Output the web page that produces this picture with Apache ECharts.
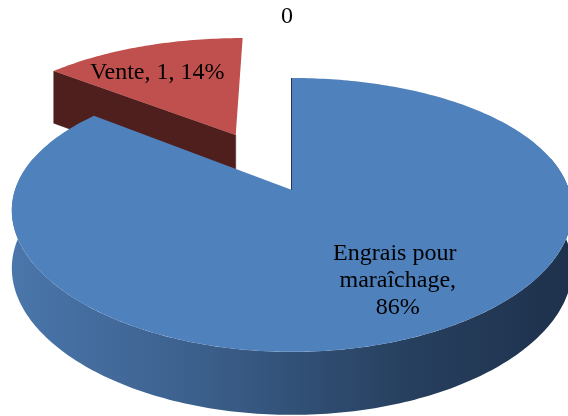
<!DOCTYPE html>
<html><head><meta charset="utf-8">
<script src="https://cdn.jsdelivr.net/npm/echarts@6.0.0/dist/echarts.min.js"></script>
<style>html,body{margin:0;padding:0;background:#fff}#c{width:568px;height:416px}</style>
</head><body><div id="c"></div>
<script>
// ---- data ----
const categories = ['Engrais pour maraîchage', 'Vente', ''];
const values = [6, 1, 0];
const labelFormats = ['{b},\n{d}%', '{b}, {c}, {d}%', '{c}'];
const explode = [0, 0.5, 0];

// ---- styles ----
const topColors = ['#4F81BD', '#C0504D', '#9BBB59'];
const cutColors = ['#22385a', '#4f1f1e', '#5a6e33'];
const sideStops = [
  [[0, '#4a76ab'], [0.34, '#3b5f8b'], [0.7, '#27405f'], [1, '#1e314c']],
  [[0, '#5a2422'], [1, '#3e1716']],
  [[0, '#73893f'], [1, '#4a5a29']]
];
const G = {cx: 292, cy: 190, A: 277, E: 132.4, k: 0.182, kx: 0.15, H: 57,
  labelR: 0.7, labelShift: -4 * Math.PI / 180, zeroR: 1.72, xL: 13, xR: 571};

const total = values.reduce((s, v) => s + v, 0);
const starts = [];
{ let acc = 0; values.forEach(v => { starts.push(acc); acc += v; }); }

function proj(u, v, down) {
  const D = 1 + G.k * v;
  const Dx = 1 + G.kx * v;
  return [G.cx + G.A * u / Dx, G.cy - G.E * v / D + (down ? G.H / Math.sqrt(D) : 0)];
}
function fmt(i) {
  const pct = Math.round(values[i] / total * 100);
  return labelFormats[i].replace('{b}', categories[i]).replace('{c}', values[i]).replace('{d}', pct);
}
function arc(ou, ov, a1, a2, down, n) {
  const pts = [];
  for (let j = 0; j <= n; j++) {
    const t = a1 + (a2 - a1) * j / n;
    pts.push(proj(ou + Math.sin(t), ov + Math.cos(t), down));
  }
  return pts;
}

function renderItem(params, api) {
  const i = params.dataIndex;
  const val = api.value(0);
  const TAU = Math.PI * 2;
  const t1 = starts[i] / total * TAU, t2 = (starts[i] + val) / total * TAU;
  const mid = (t1 + t2) / 2;
  const ex = explode[i];
  const ou = ex * Math.sin(mid), ov = ex * Math.cos(mid);
  const base = Math.round(10 * (1 - ov - 0.5 * Math.cos(mid))) * 10;
  const children = [];
  const font = '24px "Liberation Serif", "Times New Roman", serif';
  if (val > 0) {
    // outer side (front part only)
    const lim = Math.acos(0.25);
    const s1 = Math.max(t1, lim), s2 = Math.min(t2, TAU - lim);
    if (s2 > s1) {
      const n = Math.max(8, Math.ceil((s2 - s1) * 60));
      const topA = arc(ou, ov, s1, s2, false, n);
      const botA = arc(ou, ov, s1, s2, true, n).reverse();
      children.push({type: 'polygon', z2: base + 1, shape: {points: topA.concat(botA)},
        style: {fill: {type: 'linear', x: G.xL, y: 0, x2: G.xR, y2: 0, global: true,
          colorStops: sideStops[i].map(s => ({offset: s[0], color: s[1]}))}}});
    }
    // cut faces
    const faces = [[t1, Math.sin(t1)], [t2, -Math.sin(t2)]];
    faces.forEach(f => {
      const t = f[0];
      const p0 = proj(ou, ov, false), p1 = proj(ou + Math.sin(t), ov + Math.cos(t), false);
      if (f[1] < -0.01) {
        const p2 = proj(ou + Math.sin(t), ov + Math.cos(t), true), p3 = proj(ou, ov, true);
        children.push({type: 'polygon', z2: base + 2, shape: {points: [p0, p1, p2, p3]},
          style: {fill: cutColors[i], stroke: cutColors[i], lineWidth: 0.5}});
      } else if (Math.abs(f[1]) <= 0.01 && ex === 0) {
        children.push({type: 'line', z2: base + 2,
          shape: {x1: p0[0], y1: p0[1], x2: p1[0], y2: p1[1]},
          style: {stroke: cutColors[i], lineWidth: 2}});
      }
    });
    // top face
    const n = Math.max(8, Math.ceil((t2 - t1) * 60));
    const pts = [proj(ou, ov, false)].concat(arc(ou, ov, t1, t2, false, n));
    children.push({type: 'polygon', z2: base + 3, shape: {points: pts},
      style: {fill: topColors[i]}});
    // label
    const la = mid + G.labelShift;
    const lp = proj(ou + G.labelR * Math.sin(la), ov + G.labelR * Math.cos(la), false);
    children.push({type: 'text', z2: 500, style: {text: fmt(i), x: lp[0], y: lp[1],
      align: 'center', verticalAlign: 'middle', font: font, fill: '#000',
      width: 150, overflow: 'break', lineHeight: 27}});
  } else {
    const lp = proj(G.zeroR * Math.sin(mid), G.zeroR * Math.cos(mid), false);
    children.push({type: 'text', z2: 500, style: {text: fmt(i), x: lp[0] - 5, y: lp[1],
      align: 'center', verticalAlign: 'middle', font: font, fill: '#000'}});
  }
  return {type: 'group', children: children};
}

const chart = echarts.init(document.getElementById('c'));
chart.setOption({
  animation: false,
  backgroundColor: '#fff',
  series: [{
    type: 'custom',
    coordinateSystem: 'none',
    silent: true,
    renderItem: renderItem,
    data: values.map((v, i) => ({name: categories[i], value: [v, i]}))
  }]
});
</script>
</body></html>
